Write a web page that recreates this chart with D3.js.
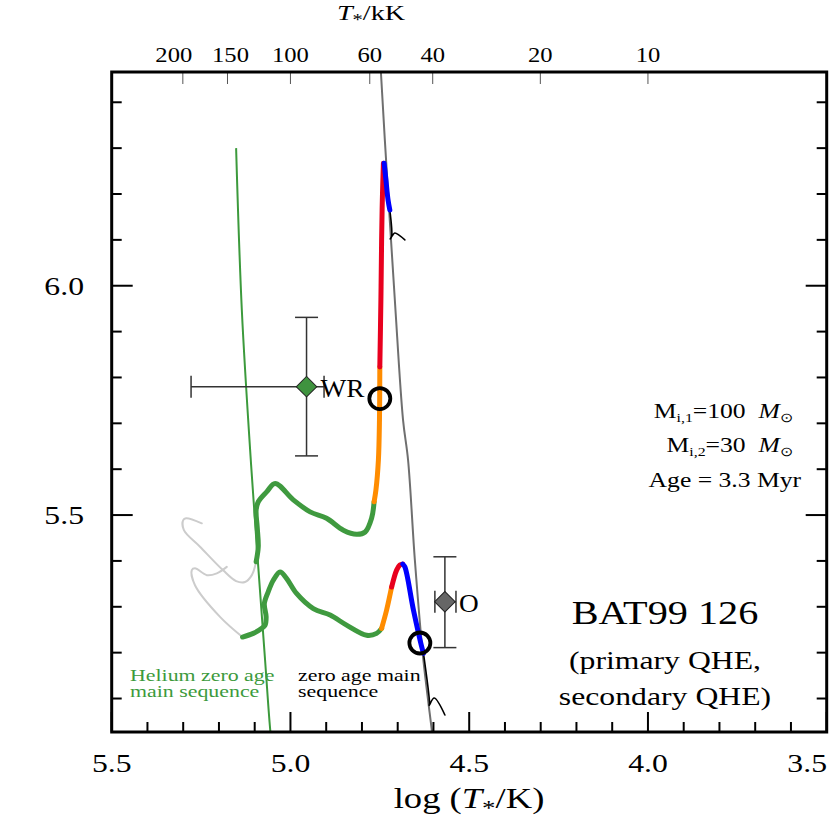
<!DOCTYPE html>
<html>
<head>
<meta charset="utf-8">
<script src="https://cdn.jsdelivr.net/npm/d3@7"></script>
<style>
  body { margin: 0; background: #fff; }
  text { font-family: "Liberation Serif", "Times New Roman", serif; }
</style>
</head>
<body>
<svg width="830" height="825"></svg>
<script>
// HRD of BAT99 126 : log(T/K) vs log(L/Lsun)
var xTicksMajor = [5.5, 5.0, 4.5, 4.0, 3.5];
var yTicksMajor = [5.5, 6.0];
var topTicksKK = [200, 150, 100, 60, 40, 20, 10];

// reference lines  [logT, logL]
var zams = [[4.750, 6.492], [4.747, 6.466], [4.736, 6.318], [4.708, 5.969], [4.685, 5.707], [4.671, 5.620],
            [4.652, 5.402], [4.629, 5.190], [4.604, 5.027], [4.598, 4.987]];
var heZams = [[5.152, 6.300], [5.136, 5.947], [5.110, 5.609], [5.071, 5.184], [5.056, 5.027], [5.050, 4.990]];

// primary track (Mi = 100)
var prim_pre = [[4.722, 6.165], [4.717, 6.107], [4.721, 6.102], [4.714, 6.110], [4.708, 6.115], [4.680, 6.100]];
var prim_blue = [[4.738, 6.267], [4.733, 6.231], [4.727, 6.187], [4.722, 6.165]];
var prim_red = [[4.740, 6.267], [4.743, 6.187], [4.745, 6.100], [4.747, 5.969], [4.750, 5.823]];
var prim_orange = [[4.750, 5.823], [4.751, 5.707], [4.754, 5.620], [4.761, 5.554], [4.766, 5.529]];
var prim_green = [[4.766, 5.529], [4.773, 5.493], [4.791, 5.463], [4.815, 5.458], [4.852, 5.467], [4.899, 5.493],
                  [4.945, 5.507], [4.992, 5.533], [5.043, 5.569], [5.066, 5.551], [5.090, 5.529], [5.096, 5.511],
                  [5.093, 5.474], [5.090, 5.431], [5.096, 5.398]];
var prim_grey = [[5.096, 5.398], [5.108, 5.369], [5.127, 5.354], [5.152, 5.356], [5.189, 5.380], [5.253, 5.431],
                 [5.298, 5.467], [5.300, 5.489], [5.292, 5.493], [5.248, 5.482]];

// secondary track (Mi = 30)
var sec_pre = [[4.628, 5.199], [4.611, 5.090], [4.612, 5.085], [4.598, 5.101], [4.568, 5.064]];
var sec_blue = [[4.686, 5.393], [4.680, 5.387], [4.656, 5.293], [4.633, 5.213], [4.628, 5.199]];
var sec_red = [[4.717, 5.343], [4.703, 5.380], [4.694, 5.391], [4.686, 5.393]];
var sec_orange = [[4.745, 5.253], [4.731, 5.293], [4.717, 5.343]];
var sec_green = [[5.134, 5.234], [5.104, 5.242], [5.080, 5.253], [5.071, 5.260], [5.068, 5.278], [5.073, 5.307],
                 [5.062, 5.333], [5.048, 5.358], [5.029, 5.376], [5.011, 5.362], [4.983, 5.329], [4.936, 5.296],
                 [4.889, 5.282], [4.843, 5.260], [4.787, 5.238], [4.759, 5.242], [4.745, 5.253]];
var sec_grey = [[5.134, 5.234], [5.197, 5.278], [5.267, 5.347], [5.276, 5.380], [5.267, 5.384], [5.234, 5.369],
                [5.206, 5.373], [5.178, 5.387]];

// current positions of the model stars
var ageCircles = [[4.750, 5.754], [4.638, 5.221]];

// observed components: [logT, logL, logT hot end, logT cool end, logL low, logL high]
var stars = [
  { name: "WR", t: 4.955, l: 5.780, tHot: 5.278, tCool: 4.906, lLo: 5.629, lHi: 5.931, color: "#3f933f" },
  { name: "O", t: 4.568, l: 5.311, tHot: 4.596, tCool: 4.537, lLo: 5.211, lHi: 5.409, color: "#666666" }
];

var pLeft = 111.7, pRight = 826.7, pTop = 72, pBottom = 732;
var SX = 1.22;  // the figure's lettering is a little wide

var x = d3.scaleLinear().domain([5.5, 3.5]).range([pLeft, pRight]);
var y = d3.scaleLinear().domain([5.027, 6.466]).range([pBottom, pTop]);

var svg = d3.select('svg');

// stretched text helper
function label(px, py, str, size, anchor, sx) {
  var t = svg.append('text')
    .attr('transform', 'translate(' + px + ',' + py + ') scale(' + (sx || SX) + ',1)')
    .attr('text-anchor', anchor || 'start')
    .style('font-size', size + 'px');
  if (str !== null) t.text(str);
  return t;
}

svg.append('clipPath').attr('id', 'plot')
  .append('rect').attr('x', pLeft).attr('y', pTop).attr('width', pRight - pLeft).attr('height', pBottom - pTop);

var line = d3.line()
  .x(function(d) { return x(d[0]); })
  .y(function(d) { return y(d[1]); })
  .curve(d3.curveCatmullRom.alpha(0.5));

var g = svg.append('g').attr('clip-path', 'url(#plot)');

// reference lines
g.append('path').attr('d', line(zams)).attr('fill', 'none').attr('stroke', '#6f6f6f').attr('stroke-width', 2);
g.append('path').attr('d', line(heZams)).attr('fill', 'none').attr('stroke', '#3c9a3c').attr('stroke-width', 2);

// track segments
var segs = [
  [prim_grey, '#cccccc', 2], [sec_grey, '#cccccc', 2],
  [prim_pre, '#000', 1.6], [sec_pre, '#000', 1.6],
  [prim_green, '#3f9a3f', 5], [prim_orange, '#ff8c00', 5], [prim_red, '#e8001e', 5], [prim_blue, '#0000ff', 5],
  [sec_green, '#3f9a3f', 5], [sec_orange, '#ff8c00', 5], [sec_red, '#e8001e', 5], [sec_blue, '#0000ff', 5]
];
segs.forEach(function(s) {
  g.append('path').attr('d', line(s[0]))
    .attr('fill', 'none').attr('stroke', s[1]).attr('stroke-width', s[2])
    .attr('stroke-linecap', 'round').attr('stroke-linejoin', 'round');
});

// error bars and markers
stars.forEach(function(s) {
  var cx = x(s.t), cy = y(s.l);
  var eg = g.append('g').attr('stroke', '#333').attr('stroke-width', 1.5).attr('fill', 'none');
  eg.append('line').attr('x1', x(s.tHot)).attr('x2', x(s.tCool)).attr('y1', cy).attr('y2', cy);
  eg.append('line').attr('x1', x(s.tHot)).attr('x2', x(s.tHot)).attr('y1', cy - 11).attr('y2', cy + 11);
  eg.append('line').attr('x1', x(s.tCool)).attr('x2', x(s.tCool)).attr('y1', cy - 11).attr('y2', cy + 11);
  eg.append('line').attr('x1', cx).attr('x2', cx).attr('y1', y(s.lLo)).attr('y2', y(s.lHi));
  eg.append('line').attr('x1', cx - 11.5).attr('x2', cx + 11.5).attr('y1', y(s.lLo)).attr('y2', y(s.lLo));
  eg.append('line').attr('x1', cx - 11.5).attr('x2', cx + 11.5).attr('y1', y(s.lHi)).attr('y2', y(s.lHi));
  g.append('path')
    .attr('d', d3.symbol().type(d3.symbolSquare).size(210)())
    .attr('transform', 'translate(' + cx + ',' + cy + ') rotate(45)')
    .attr('fill', s.color).attr('stroke', '#222').attr('stroke-width', 1);
  label(cx + 14, cy + 10, s.name, 26, 'start', 1.05);
});

// model positions at the current age
g.selectAll('.age').data(ageCircles).enter().append('circle')
  .attr('cx', function(d) { return x(d[0]); })
  .attr('cy', function(d) { return y(d[1]); })
  .attr('r', 10.5).attr('fill', 'none').attr('stroke', '#000').attr('stroke-width', 3.8);

// ticks (inward)
var ticks = svg.append('g').attr('stroke', '#000').attr('stroke-width', 2);
d3.range(5.5, 3.45, -0.1).forEach(function(v) {
  var major = xTicksMajor.some(function(m) { return Math.abs(m - v) < 1e-6; });
  var len = major ? 20 : 10;
  ticks.append('line').attr('x1', x(v)).attr('x2', x(v)).attr('y1', pBottom).attr('y2', pBottom - len);
});
d3.range(5.1, 6.45, 0.1).forEach(function(v) {
  var major = yTicksMajor.some(function(m) { return Math.abs(m - v) < 1e-6; });
  var len = major ? 21 : 10;
  ticks.append('line').attr('x1', pLeft).attr('x2', pLeft + len).attr('y1', y(v)).attr('y2', y(v));
  ticks.append('line').attr('x1', pRight).attr('x2', pRight - len).attr('y1', y(v)).attr('y2', y(v));
});
topTicksKK.forEach(function(t, i) {
  var xv = x(Math.log10(t * 1000));
  svg.append('line').attr('x1', xv).attr('x2', xv).attr('y1', pTop).attr('y2', pTop + 12)
    .attr('stroke', '#555').attr('stroke-width', 1);
  label(xv + (i === 0 ? -9 : i === 1 ? 3 : 0), 62, String(t), 22, 'middle', 1.12);
});

// frame
svg.append('rect').attr('x', pLeft).attr('y', pTop).attr('width', pRight - pLeft).attr('height', pBottom - pTop)
  .attr('fill', 'none').attr('stroke', '#000').attr('stroke-width', 3);

// tick labels
xTicksMajor.forEach(function(v, i) {
  var last = i === xTicksMajor.length - 1;
  label(last ? 827 : x(v), 772, d3.format('.1f')(v), 26, last ? 'end' : 'middle');
});
yTicksMajor.forEach(function(v) {
  label(84, y(v) + 9, d3.format('.1f')(v), 26, 'end');
});

// axis titles
var xt = label(469, 808, null, 30, 'middle', 1.22);
xt.append('tspan').text('log (');
xt.append('tspan').style('font-style', 'italic').text('T');
xt.append('tspan').attr('dy', 7).style('font-size', '22px').text('*');
xt.append('tspan').attr('dy', -7).text('/K)');

var tt = label(371, 20, null, 22, 'middle', 1.28);
tt.append('tspan').style('font-style', 'italic').text('T');
tt.append('tspan').attr('dy', 5).style('font-size', '16px').text('*');
tt.append('tspan').attr('dy', -5).text('/kK');

// model parameters
function massLine(yy, idx, val) {
  var t = label(794, yy, null, 21, 'end');
  t.append('tspan').text('M');
  t.append('tspan').attr('dy', 4).style('font-size', '13px').text('i,' + idx);
  t.append('tspan').attr('dy', -4).text('=' + val + '\u00a0\u00a0');
  t.append('tspan').style('font-style', 'italic').text('M');
  t.append('tspan').attr('dy', 4).style('font-size', '13px').text('\u2299');
}
massLine(418, 1, 100);
massLine(452, 2, 30);
label(801, 487, 'Age = 3.3 Myr', 21, 'end');

// object name
label(665, 624, 'BAT99 126', 33, 'middle');
label(665, 669, '(primary QHE,', 26, 'middle');
label(665, 705, 'secondary QHE)', 26, 'middle');

// line labels (two tight lines each)
function twoLines(px, lines, color) {
  var t = label(px, 681, null, 17.5, 'start', 1.25).attr('fill', color);
  t.append('tspan').attr('x', 0).attr('y', 0).text(lines[0]);
  t.append('tspan').attr('x', 0).attr('y', 16).text(lines[1]);
}
twoLines(130, ['Helium zero age', 'main sequence'], '#3c9a3c');
twoLines(298, ['zero age main', 'sequence'], '#000');
</script>
</body>
</html>
